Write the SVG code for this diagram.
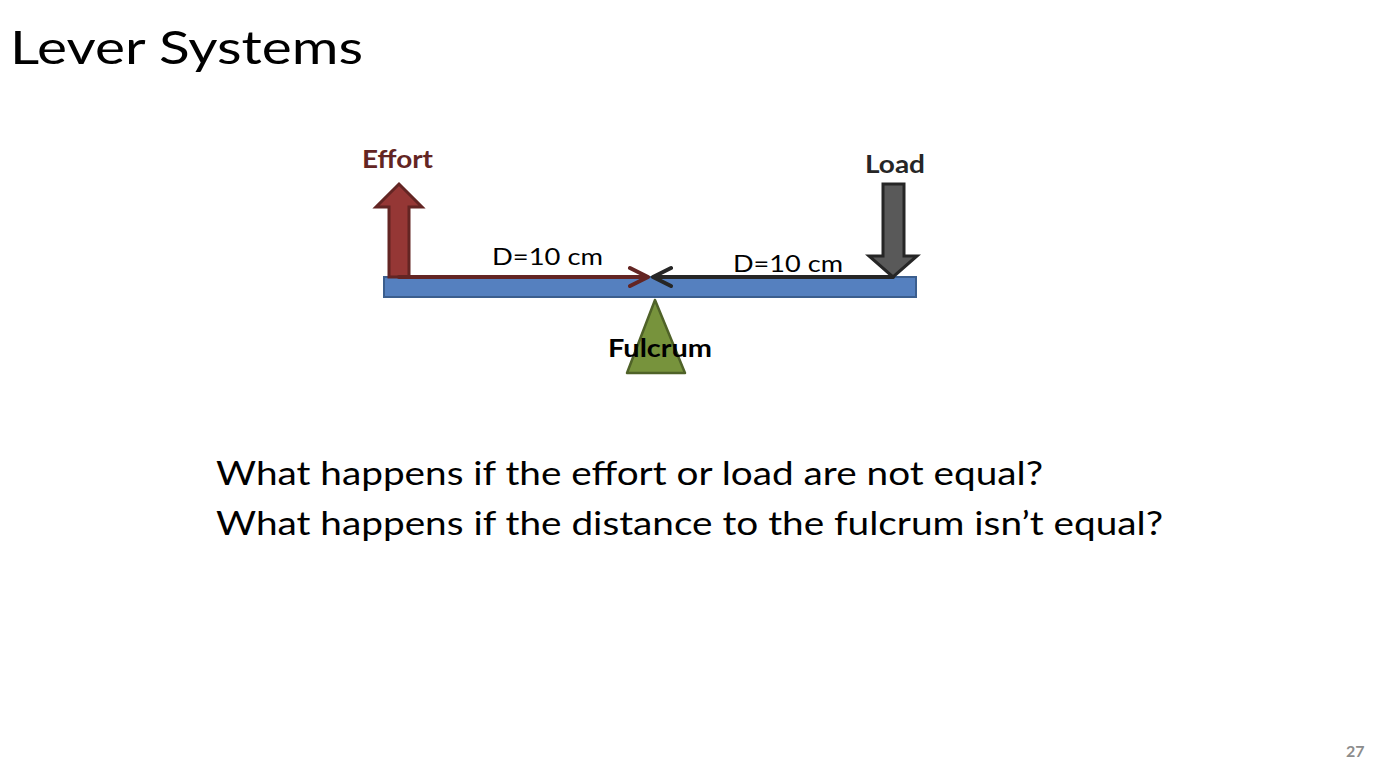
<svg xmlns="http://www.w3.org/2000/svg" width="1378" height="766" viewBox="0 0 1378 766">
<style>
text{font-family:Lato,"Open Sans","Liberation Sans",sans-serif}
.title{font-size:46px;fill:#000}
.q{font-size:32px;fill:#000}
.lbl{font-size:24px;font-weight:bold}
.dim{font-size:23px;fill:#000}
.edim{stroke:#632523;stroke-width:4;fill:none;stroke-linecap:round;stroke-linejoin:round}
.ldim{stroke:#262626;stroke-width:4;fill:none;stroke-linecap:round;stroke-linejoin:round}
</style>
<rect width="1378" height="766" fill="#fff"/>
<text class="title" x="10" y="64" textLength="353" lengthAdjust="spacingAndGlyphs">Lever Systems</text>
<g id="beam">
<rect x="384" y="277" width="532" height="20" fill="#5580BF" stroke="#3B5E8E" stroke-width="2"/>
</g>
<g id="fulcrum">
<polygon points="655,300 627,373 685,373" fill="#77933C" stroke="#4F6228" stroke-width="2.5" stroke-linejoin="round"/>
<text class="lbl" x="608" y="357" fill="#000" textLength="104" lengthAdjust="spacingAndGlyphs">Fulcrum</text>
</g>
<g id="effort">
<polygon points="389,277 389,207 376,207 399,184 422,207 409,207 409,277" fill="#953735" stroke="#632523" stroke-width="3" stroke-linejoin="miter"/>
<text class="lbl" x="362" y="168" fill="#632523" textLength="71" lengthAdjust="spacingAndGlyphs">Effort</text>
</g>
<g id="load">
<polygon points="883,184 904,184 904,256 917,256 893,277 869,256 883,256" fill="#595959" stroke="#262626" stroke-width="3" stroke-linejoin="miter"/>
<text class="lbl" x="865" y="173" fill="#262626" textLength="60" lengthAdjust="spacingAndGlyphs">Load</text>
</g>
<g id="connectors">
<path class="edim" d="M399,277 H648 M630,268 L648,277 L630,286"/>
<path class="ldim" d="M893,277 H653 M671,268 L653,277 L671,286"/>
</g>
<text class="dim" x="492" y="265" textLength="111" lengthAdjust="spacingAndGlyphs">D=10 cm</text>
<text class="dim" x="733" y="272" textLength="110" lengthAdjust="spacingAndGlyphs">D=10 cm</text>
<text class="q" x="216" y="485" textLength="827" lengthAdjust="spacingAndGlyphs">What happens if the effort or load are not equal?</text>
<text class="q" x="216" y="535" textLength="947" lengthAdjust="spacingAndGlyphs">What happens if the distance to the fulcrum isn’t equal?</text>
<text x="1346" y="757" font-size="16" font-weight="bold" fill="#8C8C8C">27</text>
</svg>
